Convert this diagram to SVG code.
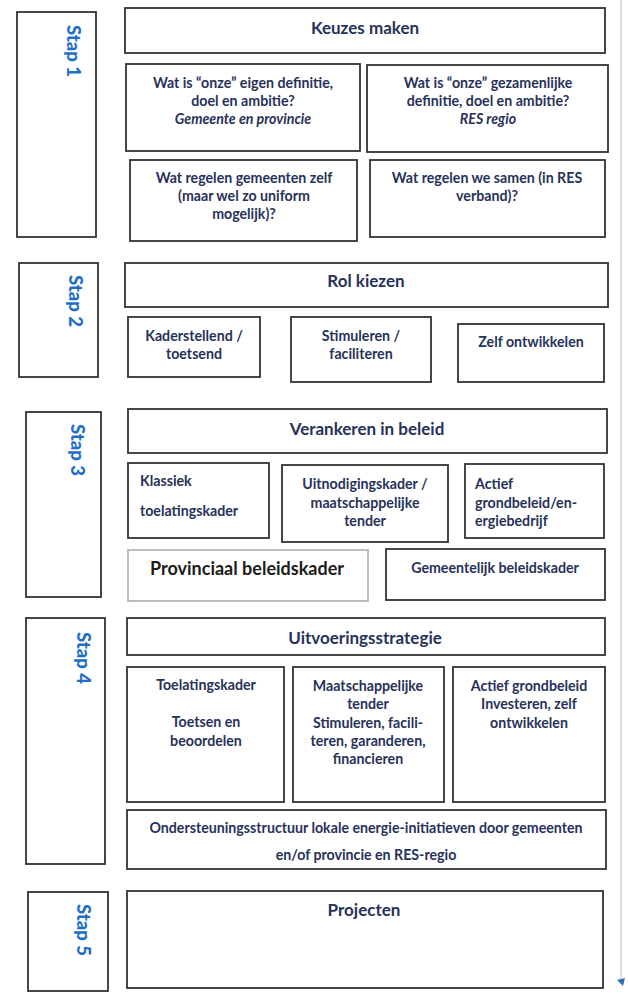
<svg xmlns="http://www.w3.org/2000/svg" width="628" height="995" viewBox="0 0 628 995">
<style>
.bx{fill:#fff;stroke:#333;stroke-width:1.8}
.lt{fill:#fff;stroke:#b5b5b5;stroke-width:1.8}
.t{font-family:Lato,"Liberation Sans",sans-serif;font-weight:bold;font-size:14.2px;fill:#27325a;text-anchor:middle;dominant-baseline:central}
.h{font-size:17px}
.l{text-anchor:start}
.big{font-size:18px;fill:#1c1c1c}
.st{font-family:Lato,"Liberation Sans",sans-serif;font-weight:900;font-size:18.5px;fill:#1f6fc9;text-anchor:middle;dominant-baseline:central}
</style>
<rect width="628" height="995" fill="#fff"/>
<line x1="621" y1="0" x2="621" y2="984" stroke="#d6d6d6" stroke-width="1.5"/>
<path d="M617,980 L625,978 L623,986 Z" fill="#2a6fb8"/>

<!-- Stap 1 -->
<g id="stap1">
<rect class="bx" x="17" y="12" width="79" height="225"/>
<text class="st" transform="translate(74,51) rotate(90)">Stap 1</text>
</g>
<g id="keuzes">
<rect class="bx" x="125" y="8" width="480" height="45"/>
<text class="t h" x="365" y="27">Keuzes maken</text>
</g>
<g id="eigen">
<rect class="bx" x="126" y="64" width="234" height="87"/>
<text class="t" x="243" y="82">Wat is “onze” eigen definitie,</text>
<text class="t" x="243" y="100">doel en ambitie?</text>
<text class="t" x="243" y="118" font-style="italic">Gemeente en provincie</text>
</g>
<g id="gezamenlijk">
<rect class="bx" x="367" y="65" width="241" height="87"/>
<text class="t" x="488" y="82">Wat is “onze” gezamenlijke</text>
<text class="t" x="488" y="100">definitie, doel en ambitie?</text>
<text class="t" x="488" y="118" font-style="italic">RES regio</text>
</g>
<g id="zelf">
<rect class="bx" x="130" y="160" width="227" height="81"/>
<text class="t" x="244" y="177">Wat regelen gemeenten zelf</text>
<text class="t" x="244" y="195">(maar wel zo uniform</text>
<text class="t" x="244" y="213">mogelijk)?</text>
</g>
<g id="samen">
<rect class="bx" x="370" y="160" width="235" height="77"/>
<text class="t" x="487" y="177">Wat regelen we samen (in RES</text>
<text class="t" x="487" y="195">verband)?</text>
</g>

<!-- Stap 2 -->
<g id="stap2">
<rect class="bx" x="19" y="263" width="79" height="114"/>
<text class="st" transform="translate(76,301) rotate(90)">Stap 2</text>
</g>
<g id="rol">
<rect class="bx" x="125" y="263" width="483" height="44"/>
<text class="t h" x="366" y="280">Rol kiezen</text>
</g>
<g id="kaderstellend">
<rect class="bx" x="128" y="317" width="132" height="60"/>
<text class="t" x="194" y="335">Kaderstellend /</text>
<text class="t" x="194" y="353">toetsend</text>
</g>
<g id="stimuleren">
<rect class="bx" x="291" y="317" width="140" height="65"/>
<text class="t" x="361" y="335">Stimuleren /</text>
<text class="t" x="361" y="353">faciliteren</text>
</g>
<g id="zelfontwikkelen">
<rect class="bx" x="458" y="324" width="146" height="58"/>
<text class="t" x="531" y="341">Zelf ontwikkelen</text>
</g>

<!-- Stap 3 -->
<g id="stap3">
<rect class="bx" x="26" y="412" width="75" height="185"/>
<text class="st" transform="translate(78,450) rotate(90)">Stap 3</text>
</g>
<g id="verankeren">
<rect class="bx" x="128" y="409" width="479" height="44"/>
<text class="t h" x="367" y="428">Verankeren in beleid</text>
</g>
<g id="klassiek">
<rect class="bx" x="128" y="463" width="141" height="75"/>
<text class="t l" x="140" y="480">Klassiek</text>
<text class="t l" x="140" y="510">toelatingskader</text>
</g>
<g id="uitnodigingskader">
<rect class="bx" x="282" y="465" width="166" height="77"/>
<text class="t" x="365" y="483">Uitnodigingskader /</text>
<text class="t" x="365" y="502">maatschappelijke</text>
<text class="t" x="365" y="520">tender</text>
</g>
<g id="actief3">
<rect class="bx" x="465" y="464" width="139" height="74"/>
<text class="t l" x="475" y="483">Actief</text>
<text class="t l" x="475" y="502">grondbeleid/en-</text>
<text class="t l" x="475" y="520">ergiebedrijf</text>
</g>
<g id="provinciaal">
<rect class="lt" x="128" y="550" width="240" height="51"/>
<text class="t big" x="247" y="568">Provinciaal beleidskader</text>
</g>
<g id="gemeentelijk">
<rect class="bx" x="386" y="549" width="219" height="51"/>
<text class="t" x="495" y="567">Gemeentelijk beleidskader</text>
</g>

<!-- Stap 4 -->
<g id="stap4">
<rect class="bx" x="26" y="618" width="79" height="246"/>
<text class="st" transform="translate(84,658) rotate(90)">Stap 4</text>
</g>
<g id="uitvoering">
<rect class="bx" x="127" y="618" width="478" height="37"/>
<text class="t h" x="365" y="637">Uitvoeringsstrategie</text>
</g>
<g id="toelatingskader">
<rect class="bx" x="127" y="667" width="157" height="135"/>
<text class="t" x="206" y="684">Toelatingskader</text>
<text class="t" x="206" y="721">Toetsen en</text>
<text class="t" x="206" y="740">beoordelen</text>
</g>
<g id="maatschappelijk">
<rect class="bx" x="293" y="667" width="151" height="135"/>
<text class="t" x="368" y="685">Maatschappelijke</text>
<text class="t" x="368" y="703">tender</text>
<text class="t" x="368" y="722">Stimuleren, facili-</text>
<text class="t" x="368" y="740">teren, garanderen,</text>
<text class="t" x="368" y="758">financieren</text>
</g>
<g id="actief4">
<rect class="bx" x="453" y="667" width="152" height="135"/>
<text class="t" x="529" y="685">Actief grondbeleid</text>
<text class="t" x="529" y="703">Investeren, zelf</text>
<text class="t" x="529" y="722">ontwikkelen</text>
</g>
<g id="ondersteuning">
<rect class="bx" x="127" y="810" width="479" height="59"/>
<text class="t" x="366" y="827">Ondersteuningsstructuur lokale energie-initiatieven door gemeenten</text>
<text class="t" x="366" y="854">en/of provincie en RES-regio</text>
</g>

<!-- Stap 5 -->
<g id="stap5">
<rect class="bx" x="28" y="892" width="80" height="99"/>
<text class="st" transform="translate(84,930) rotate(90)">Stap 5</text>
</g>
<g id="projecten">
<rect class="bx" x="127" y="891" width="476" height="97"/>
<text class="t h" x="364" y="909">Projecten</text>
</g>

<g id="connectors"></g>
</svg>
